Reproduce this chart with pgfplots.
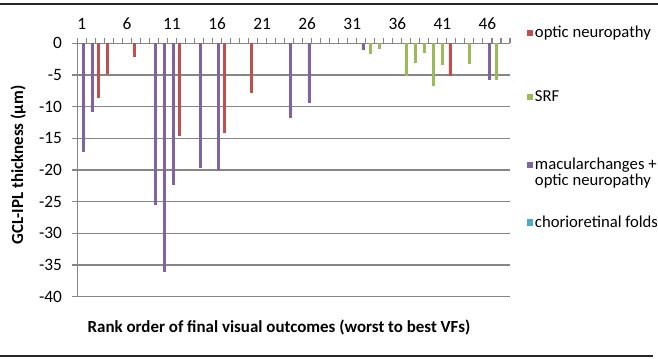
\documentclass[border=0pt]{standalone}
\usepackage{pgfplots}
\pgfplotsset{compat=1.18}
\usepackage{fontspec}
\setmainfont{Carlito}

\definecolor{optred}{HTML}{C0504D}
\definecolor{srfgreen}{HTML}{9BBB59}
\definecolor{macpurple}{HTML}{8064A2}
\definecolor{chorcyan}{HTML}{4BACC6}
\definecolor{gridgray}{HTML}{868686}

% legend entry: coloured square, then the text, in a box of equal
% height and depth (#2) centred on the first baseline
\newcommand{\legtext}[3]{\raisebox{0pt}[#2][#2]{%
  \raisebox{1.1pt}{\textcolor{#1}{\rule{4.6pt}{4.6pt}}}\hspace{1.6pt}#3}}

\begin{document}
\begin{tikzpicture}
\useasboundingbox (0,0) rectangle (493.5pt,268.5pt);
% frame rules above and below the figure
\draw[line width=1.6pt, black!85] (0,265.5pt) -- (493.5pt,265.5pt);
\draw[line width=1.6pt, black!85] (0,1.5pt) -- (490pt,1.5pt);

\begin{axis}[
  at={(58pt,46pt)}, anchor=south west,
  scale only axis, width=324.5pt, height=190pt,
  xmin=0.5, xmax=48.5, ymin=-40, ymax=0,
  axis x line=top, axis y line=left,
  axis line style={gridgray, line width=1.2pt, -},
  xtick={1,6,...,46},
  major x tick style={draw=none},
  minor xtick={0.5,1.5,...,48.5},
  minor x tick style={gridgray, line width=0.8pt},
  minor tick length=4pt,
  ytick={-40,-35,...,0},
  y tick style={gridgray, line width=1.2pt},
  major tick length=4pt,
  tick align=outside,
  ymajorgrids, major grid style={gridgray, line width=1.2pt},
  /pgf/number format/assume math mode=true,
  tick label style={font=\fontsize{13}{14}\selectfont},
  xticklabel style={yshift=3pt},
  yticklabel style={xshift=-4pt},
  ylabel={\bfseries GCL-IPL thickness (µm)},
  ylabel style={at={(axis description cs:-0.137,0.52)}, anchor=center, font=\fontsize{12.7}{14}\selectfont},
  xlabel={\bfseries Rank order of final visual outcomes (worst to best VFs)},
  xlabel style={at={(axis description cs:0.466,-0.12)}, anchor=center, font=\fontsize{12.7}{14}\selectfont},
  ybar, bar width=1.5pt,
  every axis plot post/.append style={empty legend},
  legend style={at={(axis description cs:1.038,1.026)}, anchor=north west,
    draw=none, fill=none, inner sep=0pt, row sep=39pt,
    font=\fontsize{12.5}{11.25}\selectfont,
    nodes={inner sep=0pt, text depth=},
    cells={anchor=west}},
]
% optic neuropathy
\addplot[draw=optred, fill=optred, bar shift=-1.2pt] coordinates {
  (3,-8.5) (4,-4.7) (7,-2.0) (12,-14.5) (17,-14.0) (20,-7.8) (42,-5.0)};
\addlegendentry{\legtext{optred}{0pt}{optic neuropathy}}
% SRF
\addplot[draw=srfgreen, fill=srfgreen, bar shift=0pt] coordinates {
  (33,-1.6) (34,-0.7) (37,-5.1) (38,-3.0) (39,-1.4) (40,-6.6) (41,-3.3) (44,-3.1) (47,-5.7)};
\addlegendentry{\legtext{srfgreen}{8.25pt}{SRF}}
% macular changes + optic neuropathy
\addplot[draw=macpurple, fill=macpurple, bar shift=1.2pt] coordinates {
  (1,-17.1) (2,-10.8) (9,-25.4) (10,-36.0) (11,-22.3) (14,-19.6) (16,-20.0)
  (24,-11.6) (26,-9.3) (32,-0.9) (46,-5.7)};
\addlegendentry{\legtext{macpurple}{3.75pt}{\begin{tabular}[t]{@{}l@{}}macularchanges +\\optic neuropathy\end{tabular}}}
% chorioretinal folds
\addlegendimage{empty legend}
\addlegendentry{\legtext{chorcyan}{0pt}{chorioretinal folds}}
\end{axis}
\end{tikzpicture}
\end{document}
